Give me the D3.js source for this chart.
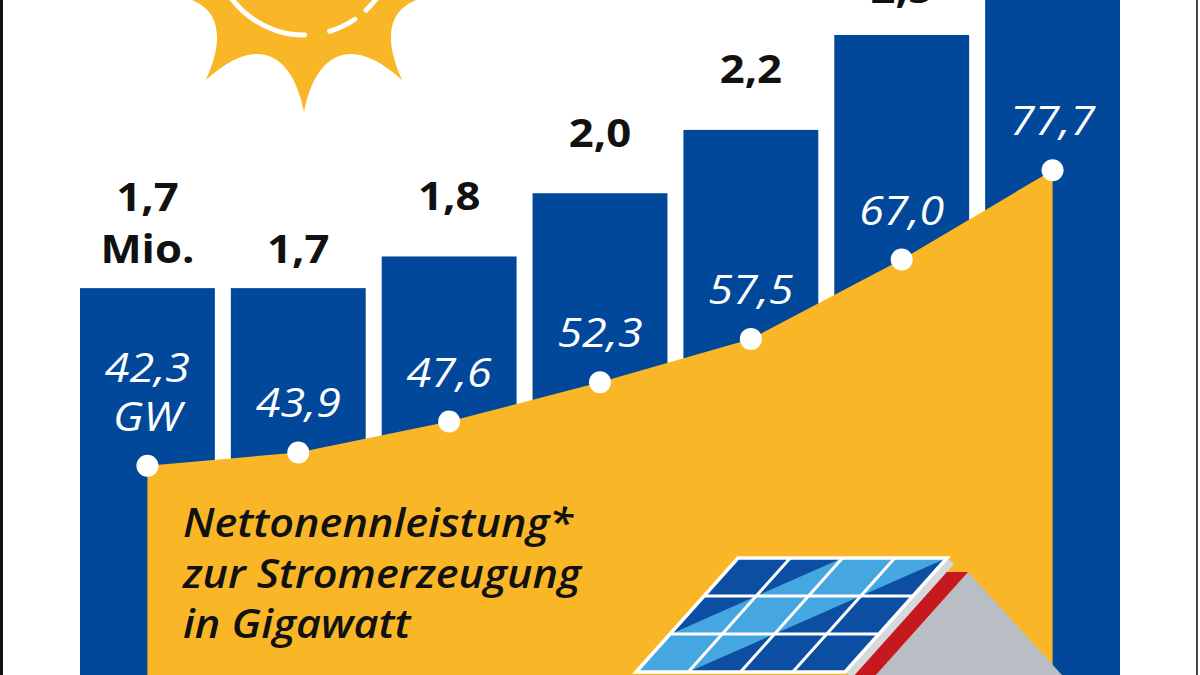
<!DOCTYPE html>
<html>
<head>
<meta charset="utf-8">
<script src="https://d3js.org/d3.v7.min.js"></script>
<style>
  body { margin: 0; background: #fff; }
  svg { display: block; font-family: "Open Sans", sans-serif; }
</style>
</head>
<body>
<div id="chart"></div>
<script>
// Photovoltaik: Anzahl Anlagen (Mio.) als Säulen, Nettonennleistung (GW) als Fläche
const slots = [0, 1, 2, 3, 4, 5, 6];
// last bar runs off the top of the picture, its value is only a rough guess
const systemsMio = [1.7, 1.7, 1.8, 2.0, 2.2, 2.5, 2.8];
const systemsLabels = [["1,7", "Mio."], ["1,7"], ["1,8"], ["2,0"], ["2,2"], ["2,5"], []];
const capacityGW = [42.3, 43.9, 47.6, 52.3, 57.5, 67.0, 77.7];
const capacityLabels = [["42,3", "GW"], ["43,9"], ["47,6"], ["52,3"], ["57,5"], ["67,0"], ["77,7"]];
const titleLines = ["Nettonennleistung*", "zur Stromerzeugung", "in Gigawatt"];

const W = 1200, H = 675;
const blue = "#02489a", yellow = "#f9b727";
const sx = 1.12; // the source graphic is stretched sideways

const svg = d3.select("#chart").append("svg")
  .attr("width", W).attr("height", H)
  .style("background", "#fff");

const x = d3.scaleBand().domain(slots).range([80, 1120]).paddingInner(0.106);
const cx = i => x(i) + x.bandwidth() / 2;
const yBar = d3.scaleLinear().domain([0, 2.5]).range([826, 35]);
const yCap = d3.scaleLinear().domain([40, 80]).range([485, 151]);

// bars
svg.append("g").selectAll("rect")
  .data(systemsMio)
  .join("rect")
  .attr("x", (d, i) => x(i))
  .attr("y", d => yBar(d))
  .attr("width", x.bandwidth())
  .attr("height", d => H - yBar(d))
  .attr("fill", blue);

// bar labels (black bold)
const labelGap = [25, 25, 46, 46, 47, 32, 32];
svg.append("g").selectAll("g")
  .data(systemsLabels)
  .join("g")
  .each(function (lines, i) {
    const base = yBar(systemsMio[i]) - labelGap[i];
    d3.select(this).selectAll("text")
      .data(lines)
      .join("text")
      .attr("transform", (t, k) => `translate(${cx(i)},${base - (lines.length - 1 - k) * 52}) scale(${sx},1)`)
      .attr("text-anchor", "middle")
      .attr("font-size", 39)
      .attr("font-weight", 700)
      .attr("fill", "#111")
      .text(t => t);
  });

// capacity area
const area = d3.area()
  .x((d, i) => cx(i))
  .y0(H + 10)
  .y1(d => yCap(d));
svg.append("path")
  .datum(capacityGW)
  .attr("d", area)
  .attr("fill", yellow);

svg.append("g").selectAll("circle")
  .data(capacityGW)
  .join("circle")
  .attr("cx", (d, i) => cx(i))
  .attr("cy", d => yCap(d))
  .attr("r", 11)
  .attr("fill", "#fff");

svg.append("g").selectAll("g")
  .data(capacityLabels)
  .join("g")
  .each(function (lines, i) {
    const base = yCap(capacityGW[i]) - 35;
    d3.select(this).selectAll("text")
      .data(lines)
      .join("text")
      .attr("transform", (t, k) => `translate(${cx(i)},${base - (lines.length - 1 - k) * 49}) scale(${sx},1)`)
      .attr("text-anchor", "middle")
      .attr("font-size", 40)
      .attr("font-style", "italic")
      .attr("font-weight", 500)
      .attr("fill", "#fff")
      .text(t => t);
  });

// title inside the area
svg.append("g").selectAll("text")
  .data(titleLines)
  .join("text")
  .attr("transform", (t, k) => `translate(183,${537 + k * 50.5}) scale(1.08,1)`)
  .attr("font-size", 40)
  .attr("font-style", "italic")
  .attr("font-weight", 600)
  .attr("fill", "#111")
  .text(t => t);

// sun
const sunC = [304, -55];
const rad = a => a * Math.PI / 180;
const sp = (r, a) => [sunC[0] + r * Math.cos(rad(a)), sunC[1] + r * Math.sin(rad(a))];
const sun = d3.path();
for (let k = 0; k < 10; k++) {
  const a = 90 + 36 * k;
  if (k === 0) sun.moveTo(...sp(167, a));
  sun.bezierCurveTo(...sp(104, a + 7), ...sp(104, a + 29), ...sp(167, a + 36));
}
sun.closePath();
svg.append("path").attr("d", sun.toString()).attr("fill", yellow);

const dashArc = d3.arc().innerRadius(87.5).outerRadius(92.5).cornerRadius(2.5);
[[88, 165], [54, 75], [25, 48]].forEach(([a0, a1]) => {
  svg.append("path")
    .attr("transform", `translate(${sunC})`)
    .attr("d", dashArc({ startAngle: rad(a0 + 90), endAngle: rad(a1 + 90) }))
    .attr("fill", "#fff");
});

// roof with solar panel
const poly = pts => "M" + pts.map(p => p.join(",")).join("L") + "Z";
svg.append("path").attr("d", poly([[968, 572], [1072, 686], [866, 686]])).attr("fill", "#b8bec4");
svg.append("path").attr("d", poly([[945, 572], [968, 572], [866, 686], [841, 686]])).attr("fill", "#c5191f");

const P = (u, v) => [738 + u * 209 - v * 102, 558 + v * 114];
svg.append("path").attr("d", poly([P(1, 0), [P(1, 0)[0] + 7, P(1, 0)[1] + 6], [P(1, 1)[0] + 7, P(1, 1)[1] + 6], P(1, 1)]))
  .attr("fill", "#d6d9dc");
svg.append("path").attr("d", poly([P(0, 0), P(1, 0), P(1, 1), P(0, 1)])).attr("fill", "#0b4ea2");
svg.append("path").attr("d", poly([P(0, 0.67), P(0.5, 0), P(1, 0), P(0.25, 1), P(0, 1)])).attr("fill", "#46a7e0");
const grid = svg.append("g").attr("stroke", "#fff").attr("stroke-width", 3).attr("fill", "none");
[0.25, 0.5, 0.75].forEach(u => grid.append("path").attr("d", "M" + P(u, 0) + "L" + P(u, 1)));
[1 / 3, 2 / 3].forEach(v => grid.append("path").attr("d", "M" + P(0, v) + "L" + P(1, v)));
grid.append("path").attr("d", poly([P(0, 0), P(1, 0), P(1, 1), P(0, 1)])).attr("stroke-width", 3.5);

// frame
svg.append("rect").attr("x", 0).attr("y", 0).attr("width", 3).attr("height", H).attr("fill", "#111");
svg.append("rect").attr("x", 1196).attr("y", 0).attr("width", 2).attr("height", H).attr("fill", "#444");
</script>
</body>
</html>
